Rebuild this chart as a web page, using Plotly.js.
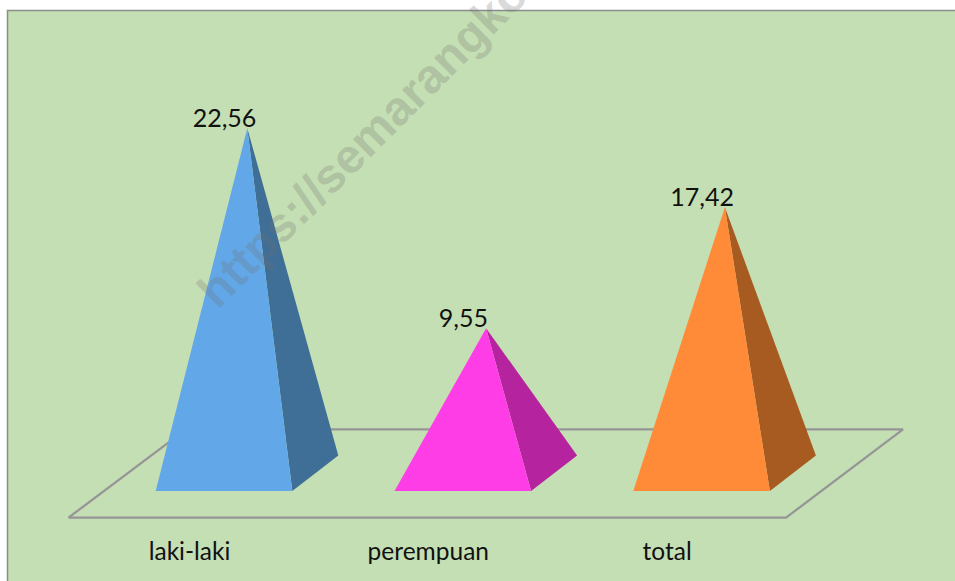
<!DOCTYPE html>
<html><head><meta charset="utf-8">
<script src="https://cdn.plot.ly/plotly-3.0.1.min.js"></script>
<style>html,body{margin:0;padding:0;background:#fff;overflow:hidden}#c{width:955px;height:581px}</style>
</head><body><div id="c"></div>
<script>
const categories = ['laki-laki', 'perempuan', 'total'];
const values = [22.56, 9.55, 17.42];
const frontColors = ['#62a8e8', '#ff3de6', '#ff8a38'];
const sideColors = ['#3f6e97', '#b5249e', '#a85b20'];

const W = 955, H = 581, bottom = 52;
const pxPerCat = 238.8, tick0 = 189.5, pxPerUnit = 15.37, zeroPx = 475;
const dx = px => px / pxPerCat;            // pixels -> category units
const yAt = px => (zeroPx - px) / pxPerUnit; // pixel row -> value units

// pyramid geometry relative to each category tick
const FL = dx(155.7 - tick0), FR = dx(292.3 - tick0), BR = dx(338.3 - tick0), AP = dx(247.3 - tick0);
const FC = dx(224.5 - tick0);
const yFront = yAt(491), yBack = yAt(455.5);
const floorY0 = yAt(517.7), floorY1 = yAt(429.3);
const fx = px => dx(px - tick0);

const traces = [];
traces.push({x:[fx(68.5),fx(786),fx(903),fx(186),fx(68.5)], y:[floorY0,floorY0,floorY1,floorY1,floorY0],
  mode:'lines', line:{color:'#969696', width:2.3}, hoverinfo:'skip', showlegend:false});
categories.forEach((c,i)=>{
  const v = values[i];
  traces.push({x:[i+FR,i+BR,i+AP,i+FR], y:[yFront,yBack,v,yFront], mode:'lines', fill:'toself',
    fillcolor:sideColors[i], line:{width:0,color:sideColors[i]}, hoverinfo:'skip', showlegend:false});
  traces.push({x:[i+FL,i+FR,i+AP,i+FL], y:[yFront,yFront,v,yFront], mode:'lines', fill:'toself',
    fillcolor:frontColors[i], line:{width:0,color:frontColors[i]}, hoverinfo:'skip', showlegend:false});
});
// value labels sit just above each apex; a small downward nudge keeps them touching it
traces.push({x:categories.map((c,i)=>i+FC), y:values.map(v=>v-5/pxPerUnit), mode:'text', textposition:'top center',
  text:values.map(v=>v.toFixed(2).replace('.',',')), textfont:{family:'Lato',size:25,color:'#111111'},
  hoverinfo:'skip', showlegend:false, cliponaxis:false});

const layout = {
  width:W, height:H, margin:{l:0,r:0,t:0,b:bottom,pad:0},
  paper_bgcolor:'#ffffff', plot_bgcolor:'rgba(0,0,0,0)', showlegend:false,
  xaxis:{range:[-tick0/pxPerCat,(W-tick0)/pxPerCat], tickmode:'array', tickvals:categories.map((c,i)=>i), ticktext:categories,
    showgrid:false, zeroline:false, showline:false, ticks:'outside', ticklen:1, tickcolor:'rgba(0,0,0,0)',
    tickfont:{family:'Lato',size:24.5,color:'#111111'}, fixedrange:true},
  yaxis:{range:[yAt(H-bottom),yAt(0)], visible:false, fixedrange:true},
  shapes:[{type:'rect', xref:'paper', yref:'paper', layer:'below',
    x0:7.5/W, x1:1.02, y0:-0.2, y1:(H-bottom-10.5)/(H-bottom),
    fillcolor:'#c5dfb4', line:{color:'#8c8c8c',width:1.5}}],
  annotations:[{text:'<b>https://semarangko</b>', xref:'paper', yref:'paper', x:362/W, y:(H-bottom-142)/(H-bottom),
    xanchor:'center', yanchor:'middle', showarrow:false, textangle:-45,
    font:{family:'Liberation Sans',size:48,color:'rgba(110,110,110,0.27)'}}]
};
Plotly.newPlot('c', traces, layout, {displayModeBar:false, staticPlot:true});
</script></body></html>
